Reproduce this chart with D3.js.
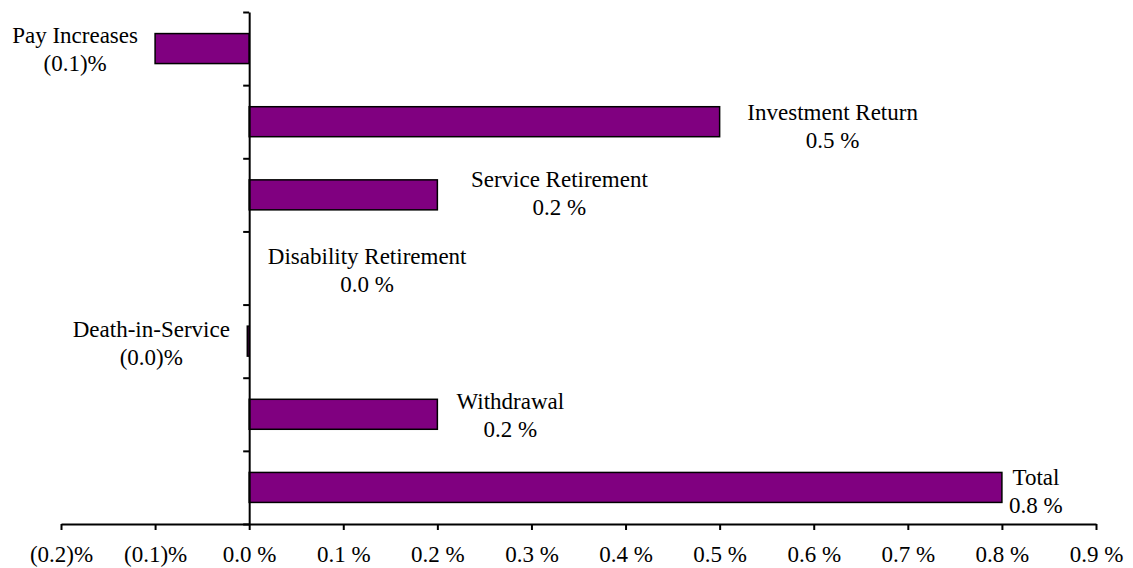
<!DOCTYPE html>
<html>
<head>
<meta charset="utf-8">
<script src="https://cdn.jsdelivr.net/npm/d3@7"></script>
<style>
  html, body { margin: 0; padding: 0; background: #fff; }
  svg text { font-family: "Liberation Serif", "Times New Roman", "DejaVu Serif", serif; }
</style>
</head>
<body>
<svg id="chart" width="1133" height="568"></svg>
<script>
// ---- data ----
const categories = ["Pay Increases", "Investment Return", "Service Retirement",
  "Disability Retirement", "Death-in-Service", "Withdrawal", "Total"];
const values = [-0.1, 0.5, 0.2, 0.0, -0.002, 0.2, 0.8];
const xTicks = [-0.2, -0.1, 0.0, 0.1, 0.2, 0.3, 0.4, 0.5, 0.6, 0.7, 0.8, 0.9];

// ---- layout (label placement relative to bar end / band centre) ----
const labelDx = [-80, 113, 122, 118, -96, 73, 34];
const labelDy = [-6, -2, -8, -4, -4, -5, -2];

const FONT = "'Liberation Serif', 'Times New Roman', serif";
const fmt = v => v < 0 ? "(" + Math.abs(v).toFixed(1) + ")%" : v.toFixed(1) + " %";

const svg = d3.select("#chart");
const x = d3.scaleLinear().domain([-0.2, 0.9]).range([61, 1096]);
const y = d3.scaleBand().domain(categories).range([12, 524])
  .paddingInner(0.59).paddingOuter(0.295);
const yIdx = d3.scaleLinear().domain([0, categories.length]).range([12, 524]);

// bars
svg.append("g").selectAll("rect").data(categories).join("rect")
  .attr("x", (d, i) => Math.min(x(0), x(values[i])))
  .attr("width", (d, i) => Math.abs(x(values[i]) - x(0)))
  .attr("y", d => y(d))
  .attr("height", y.bandwidth())
  .attr("fill", "#800080")
  .attr("stroke", "#000")
  .attr("stroke-width", 1.5);

// x axis
const xAxis = svg.append("g").attr("transform", "translate(0,524)")
  .call(d3.axisBottom(x).tickValues(xTicks).tickFormat(fmt).tickSize(6).tickSizeOuter(0))
  .attr("font-family", FONT).attr("font-size", 23);
xAxis.select(".domain").attr("stroke-width", 2);
xAxis.selectAll(".tick line").attr("stroke-width", 2);
xAxis.selectAll(".tick text").attr("fill", "#000").attr("dy", "1.25em");

// y axis at zero
const yAxis = svg.append("g").attr("transform", `translate(${x(0)},0)`)
  .call(d3.axisLeft(yIdx).ticks(categories.length).tickFormat("").tickSize(6).tickSizeOuter(0));
yAxis.select(".domain").attr("stroke-width", 2);
yAxis.selectAll(".tick line").attr("stroke-width", 2);

// data labels
const lbl = svg.append("g").attr("font-family", FONT).attr("font-size", 23)
  .attr("fill", "#000").attr("text-anchor", "middle");
categories.forEach((c, i) => {
  const cx = x(values[i]) + labelDx[i];
  const cy = y(c) + y.bandwidth() / 2 + labelDy[i];
  const t = lbl.append("text").attr("x", cx).attr("y", cy);
  t.append("tspan").attr("x", cx).text(c);
  t.append("tspan").attr("x", cx).attr("dy", 28).text(fmt(values[i]));
});
</script>
</body>
</html>
